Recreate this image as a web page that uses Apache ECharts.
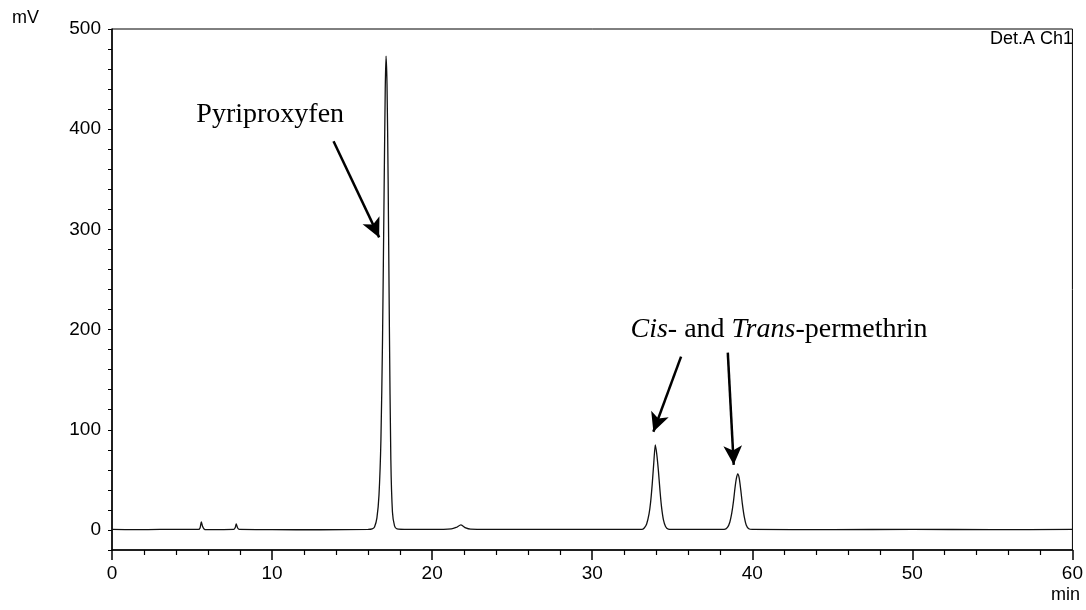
<!DOCTYPE html>
<html>
<head>
<meta charset="utf-8">
<style>html,body{margin:0;padding:0;background:#fff;}#c{width:1086px;height:610px;}</style>
<script src="https://cdn.jsdelivr.net/npm/echarts@6/dist/echarts.min.js"></script>
</head>
<body>
<div id="c"></div>
<script>
// Chromatogram trace: [time (min), signal (mV)]
var trace = [
  [0, 0.5], [1.5, 0.3], [3, 0.5], [4.5, 0.6], [5.4, 0.5], [5.5, 2], [5.58, 8], [5.65, 4], [5.75, 1], [5.9, 0.3],
  [7.6, 0.5], [7.7, 2.5], [7.76, 6], [7.85, 2], [7.95, 0.5], [10, 0.3], [13, 0.2], [16, 0.5], [16.25, 1],
  [16.4, 3], [16.55, 12], [16.68, 35], [16.8, 90], [16.9, 190], [17.0, 340], [17.07, 440], [17.12, 473],
  [17.18, 445], [17.25, 350], [17.33, 200], [17.42, 70], [17.52, 18], [17.65, 4], [17.8, 1], [18.5, 0.5], [20, 0.5],
  [21.2, 1], [21.5, 2.5], [21.8, 5], [22.1, 2], [22.4, 0.8], [25, 0.5], [30, 0.5],
  [33.1, 0.5], [33.25, 2], [33.4, 6], [33.55, 16], [33.65, 28], [33.75, 46], [33.85, 68], [33.94, 85],
  [34.03, 76], [34.13, 60], [34.23, 40], [34.33, 23], [34.45, 10], [34.58, 3.5], [34.75, 0.8], [35, 0.5],
  [38.25, 0.5], [38.45, 2.5], [38.6, 8], [38.72, 17], [38.82, 28], [38.92, 42], [39.0, 51], [39.09, 56],
  [39.18, 52], [39.28, 40], [39.38, 26], [39.5, 13], [39.62, 5], [39.78, 1.2], [40.0, 0.5],
  [45, 0.4], [50, 0.5], [55, 0.4], [60, 0.5]
];
var xTicks = [0, 10, 20, 30, 40, 50, 60];
var yTicks = [0, 100, 200, 300, 400, 500];
// Annotation arrows [from, to] in data coordinates
var arrows = [
  [[13.84, 388], [16.69, 292]],
  [[35.55, 173], [33.82, 98]],
  [[38.47, 177], [38.84, 65]]
];
var labelPyri = {text: 'Pyriproxyfen', at: [5.27, 401]};
var labelPerm = {text: '{i|Cis}- and {i|Trans}-permethrin', at: [32.39, 186]};

var chart = echarts.init(document.getElementById('c'), null, {renderer: 'canvas'});
var sans = 'Liberation Sans, Arial, sans-serif';
var serif = 'Liberation Serif, Times New Roman, serif';

chart.setOption({
  animation: false,
  backgroundColor: '#fff',
  grid: {left: 112, right: 7, top: 29, bottom: 60, show: true, borderColor: '#000', borderWidth: 1, backgroundColor: 'transparent'},
  xAxis: {
    type: 'value', min: 0, max: 60, interval: 10,
    axisLine: {show: true, onZero: false, lineStyle: {color: '#000', width: 1.5}},
    axisTick: {show: true, length: 10, lineStyle: {color: '#000', width: 1.5}},
    minorTick: {show: true, splitNumber: 5, length: 5, lineStyle: {color: '#000', width: 1.2}},
    axisLabel: {color: '#000', fontSize: 19, fontFamily: sans, margin: 14,
      formatter: function (v) { return xTicks.indexOf(v) >= 0 ? String(v) : ''; }},
    splitLine: {show: false}
  },
  yAxis: {
    type: 'value', min: -20, max: 500, interval: 20,
    axisLine: {show: true, onZero: false, lineStyle: {color: '#000', width: 1.5}},
    axisTick: {show: true, length: 4, lineStyle: {color: '#000', width: 1}},
    axisLabel: {color: '#000', fontSize: 19, fontFamily: sans, margin: 11,
      formatter: function (v) { return yTicks.indexOf(v) >= 0 ? String(v) : ''; }},
    splitLine: {show: false}
  },
  series: [{
    type: 'line',
    data: trace,
    showSymbol: false,
    smooth: 0.25,
    lineStyle: {color: '#111', width: 1.3},
    silent: true,
    markLine: {
      silent: true,
      symbol: ['none', 'arrow'],
      symbolSize: [14, 19],
      label: {show: false},
      lineStyle: {color: '#000', width: 2.5, type: 'solid'},
      emphasis: {disabled: true},
      data: arrows.map(function (a) { return [{coord: a[0]}, {coord: a[1]}]; })
    }
  }]
});

var p1 = chart.convertToPixel({gridIndex: 0}, labelPyri.at);
var p2 = chart.convertToPixel({gridIndex: 0}, labelPerm.at);

chart.setOption({
  graphic: [
    {type: 'text', left: 12, top: 9, style: {text: 'mV', font: '18px ' + sans, fill: '#000'}},
    {type: 'text', right: 13, top: 30, style: {text: 'Det.A Ch1', font: '18px ' + sans, fill: '#000'}},
    {type: 'text', right: 6, top: 586, style: {text: 'min', font: '18px ' + sans, fill: '#000'}},
    {type: 'text', x: p1[0], y: p1[1], style: {text: labelPyri.text, font: '28px ' + serif, fill: '#000', textAlign: 'left', textVerticalAlign: 'bottom'}},
    {type: 'text', x: p2[0], y: p2[1], style: {text: labelPerm.text, font: '28px ' + serif, fill: '#000', textAlign: 'left', textVerticalAlign: 'bottom',
      rich: {i: {fontStyle: 'italic', fontSize: 28, fontFamily: serif, fill: '#000'}}}}
  ]
});
</script>
</body>
</html>
